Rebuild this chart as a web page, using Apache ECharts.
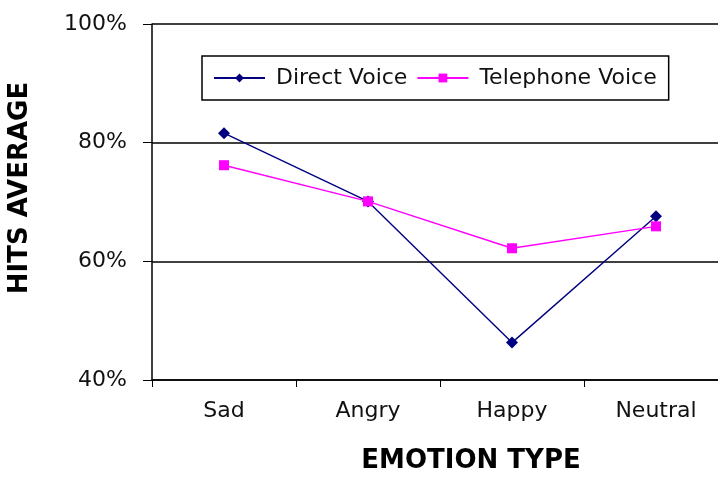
<!DOCTYPE html>
<html lang="en">
<head>
  <meta charset="UTF-8" />
  <title>Hits Average by Emotion Type</title>
  <script src="https://cdn.jsdelivr.net/npm/echarts@6/dist/echarts.min.js"></script>
  <style>
    html, body { margin: 0; background: #fff; }
    #chart { width: 718px; height: 477px; }
  </style>
</head>
<body>
  <div id="chart"></div>
  <script>
    // values (percent)
    const emotions = ['Sad', 'Angry', 'Happy', 'Neutral'];
    const directVoice = [81.6, 70.1, 46.3, 67.6];
    const telephoneVoice = [76.2, 70.1, 62.2, 65.9];
    const yTicks = [40, 60, 80, 100];

    const font = '"DejaVu Sans", Verdana, sans-serif';
    const chart = echarts.init(document.getElementById('chart'));

    chart.setOption({
      backgroundColor: '#fff',
      animation: false,
      grid: { left: 152, right: -10, top: 24, bottom: 97, outerBoundsMode: 'none', containLabel: false },
      legend: {
        left: 202,
        top: 56,
        padding: [11, 12, 11, 11],
        borderColor: '#000',
        borderWidth: 1.5,
        itemWidth: 51,
        itemHeight: 11,
        itemGap: 9,
        textStyle: { fontSize: 22, fontFamily: font, color: '#111', padding: [0, 0, 0, 6] },
        data: ['Direct Voice', 'Telephone Voice']
      },
      xAxis: {
        type: 'category',
        data: emotions,
        boundaryGap: true,
        name: 'EMOTION TYPE',
        nameLocation: 'middle',
        nameGap: 68,
        nameTextStyle: { fontSize: 26, fontWeight: 'bold', fontFamily: font, color: '#000', padding: [0, 0, 0, 62] },
        axisLine: { lineStyle: { color: '#000', width: 1.5 } },
        axisTick: { show: true, length: 7, lineStyle: { color: '#000' } },
        axisLabel: { fontSize: 22, fontFamily: font, color: '#111', margin: 20 }
      },
      yAxis: {
        type: 'value',
        min: yTicks[0],
        max: yTicks[yTicks.length - 1],
        interval: 20,
        name: 'HITS AVERAGE',
        nameLocation: 'middle',
        nameGap: 119,
        nameTextStyle: { fontSize: 26, fontWeight: 'bold', fontFamily: font, color: '#000', padding: [0, 0, 0, 28] },
        axisLine: { show: true, lineStyle: { color: '#000', width: 1.5 } },
        axisTick: { show: true, length: 9, lineStyle: { color: '#000' } },
        axisLabel: { fontSize: 22, fontFamily: font, color: '#111', margin: 25, formatter: '{value}%' },
        splitLine: { lineStyle: { color: '#000', width: 1.5 } }
      },
      series: [
        {
          name: 'Direct Voice',
          type: 'line',
          data: directVoice,
          symbol: 'diamond',
          symbolSize: 12,
          itemStyle: { color: '#000080' },
          lineStyle: { color: '#000080', width: 1.4 }
        },
        {
          name: 'Telephone Voice',
          type: 'line',
          data: telephoneVoice,
          symbol: 'rect',
          symbolSize: 10,
          itemStyle: { color: '#ff00ff' },
          lineStyle: { color: '#ff00ff', width: 1.4 }
        }
      ]
    });
  </script>
</body>
</html>
